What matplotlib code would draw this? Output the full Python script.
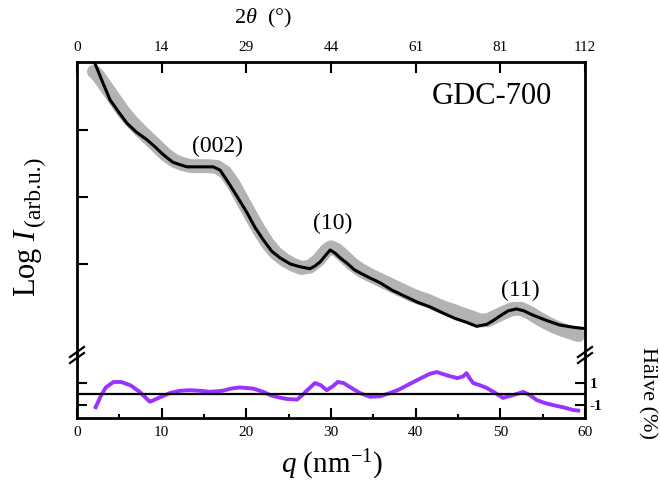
import numpy as np
import matplotlib
matplotlib.use('Agg')
import matplotlib.pyplot as plt

plt.rcParams['font.family'] = ['Liberation Serif', 'DejaVu Serif']
plt.rcParams['mathtext.fontset'] = 'custom'
plt.rcParams['mathtext.rm'] = 'Liberation Serif'
plt.rcParams['mathtext.it'] = 'Liberation Serif:italic'
plt.rcParams['mathtext.bf'] = 'Liberation Serif:bold'

# measured data (grey) : q in nm^-1, log I in arb. units
q_data = [2.0, 2.5, 3.5, 4.5, 5.5, 6.5, 7.5, 8.5, 9.5, 10.5, 11.5, 12.5, 13.5,
          14.5, 15.5, 16.5, 17.5, 18.5, 19.5, 20.5, 21.5, 22.5, 23.5, 24.5,
          25.5, 26.5, 27.5, 28.5, 29.5, 30.0, 30.7, 31.5, 32.5, 33.5, 34.5,
          35.5, 36.5, 37.5, 38.5, 39.5, 40.5, 41.5, 42.5, 43.5, 44.5, 45.5,
          46.5, 47.5, 48.5, 49.5, 50.5, 51.5, 52.5, 53.5, 54.5, 55.5, 56.5,
          57.5, 58.5, 59.2]
logI_data = [3.87, 3.81, 3.63, 3.45, 3.27, 3.12, 2.99, 2.87, 2.75, 2.63, 2.54,
             2.49, 2.46, 2.46, 2.46, 2.45, 2.37, 2.19, 1.96, 1.73, 1.51, 1.31,
             1.16, 1.06, 0.99, 0.94, 0.96, 1.06, 1.21, 1.25, 1.21, 1.12, 1.00,
             0.91, 0.84, 0.78, 0.72, 0.66, 0.60, 0.54, 0.49, 0.45, 0.39, 0.34,
             0.30, 0.25, 0.21, 0.16, 0.16, 0.22, 0.28, 0.33, 0.33, 0.27, 0.19,
             0.12, 0.06, 0.01, -0.03, -0.06]

# fit curve (black)
q_fit = [1.8, 2.1, 3.0, 3.9, 4.9, 5.9, 7.0, 8.3, 9.2, 10.2, 11.3, 12.2, 13.0,
         14.5, 16.1, 16.9, 17.7, 18.9, 20.1, 21.0, 22.0, 23.0, 24.0, 25.2,
         26.3, 27.5, 28.1, 28.7, 29.3, 29.9, 30.5, 31.1, 32.0, 32.8, 34.3,
         35.8, 37.2, 38.7, 40.2, 41.7, 43.2, 44.6, 46.0, 47.2, 48.4, 49.2,
         49.9, 50.9, 51.9, 52.8, 53.8, 55.4, 57.0, 58.4, 59.7, 60.2]
logI_fit = [4.16, 4.00, 3.72, 3.45, 3.27, 3.10, 2.97, 2.85, 2.75, 2.63, 2.52,
            2.48, 2.45, 2.45, 2.45, 2.40, 2.25, 2.01, 1.76, 1.55, 1.36, 1.19,
            1.09, 1.00, 0.96, 0.93, 0.97, 1.03, 1.12, 1.21, 1.16, 1.09, 1.00,
            0.91, 0.81, 0.72, 0.61, 0.52, 0.43, 0.36, 0.27, 0.19, 0.13, 0.07,
            0.10, 0.16, 0.22, 0.30, 0.33, 0.30, 0.24, 0.16, 0.09, 0.06, 0.04,
            0.04]

# residual (%)
q_res = [2.2, 2.8, 3.4, 4.3, 5.2, 6.3, 7.4, 8.6, 9.8, 11.0, 12.2, 13.3, 14.5,
         15.7, 17.2, 18.2, 19.2, 20.8, 22.0, 22.8, 23.8, 24.8, 26.0, 26.6,
         27.2, 28.1, 28.8, 29.5, 30.2, 30.8, 31.5, 32.2, 33.4, 34.6, 35.8,
         37.0, 38.0, 39.0, 40.0, 40.9, 41.7, 42.5, 43.1, 43.7, 44.9, 45.6,
         46.0, 46.4, 46.8, 47.6, 48.4, 49.4, 50.3, 51.5, 52.7, 53.5, 54.3,
         55.2, 56.2, 57.4, 58.6, 59.2]
res = [-1.2, -0.2, 0.6, 1.1, 1.1, 0.8, 0.2, -0.7, -0.3, 0.1, 0.3, 0.35, 0.3,
       0.2, 0.3, 0.5, 0.6, 0.5, 0.2, -0.1, -0.3, -0.45, -0.5, -0.1, 0.35, 1.0,
       0.8, 0.35, 0.7, 1.1, 1.0, 0.65, 0.1, -0.25, -0.2, 0.1, 0.4, 0.8, 1.2,
       1.55, 1.85, 2.0, 1.85, 1.7, 1.45, 1.6, 1.9, 1.4, 1.0, 0.8, 0.55, 0.1,
       -0.35, -0.1, 0.2, -0.1, -0.55, -0.8, -1.0, -1.2, -1.45, -1.5]

q_ticks = [0, 10, 20, 30, 40, 50, 60]
q_labels = ['0', '10', '20', '30', '40', '50', '60']
twotheta_labels = ['0', '14', '29', '44', '61', '81', '112']
peaks = ['(002)', '(10)', '(11)']
peak_q = [16.6, 30.2, 52.4]
peak_y = [2.75, 1.60, 0.61]

fig = plt.figure(figsize=(6.6, 4.88), dpi=100)
ax = fig.add_axes([0.1167, 0.2725, 0.7697, 0.6005])
axr = fig.add_axes([0.1167, 0.1434, 0.7697, 0.1291])

# top panel
ax.plot(q_data, logI_data, color='#b3b3b3', lw=10, solid_capstyle='round',
        solid_joinstyle='round', zorder=1)
ax.plot(q_fit, logI_fit, color='black', lw=2.2, zorder=2)
for lab, qx, yy in zip(peaks, peak_q, peak_y):
    ax.text(qx, yy, lab, fontsize=17, ha='center', va='center')
ax.text(49, 3.50, 'GDC-700', fontsize=22, ha='center', va='center')

ax.set_xlim(0, 60)
ax.set_ylim(-0.358, 4.015)
ax.set_yticks([1, 2, 3])
ax.set_yticklabels([])
ax.xaxis.tick_top()
ax.set_xticks(q_ticks)
ax.set_xticklabels(twotheta_labels, fontsize=11)
ax.tick_params(axis='x', which='both', direction='in', length=8, width=1.5,
               top=True, bottom=False, labeltop=True, labelbottom=False, pad=6)
ax.tick_params(axis='y', direction='in', length=8, width=1.5, right=False)
ax.spines['bottom'].set_visible(False)
for s in ['top', 'left', 'right']:
    ax.spines[s].set_linewidth(2)

# residual panel
axr.plot(q_res, res, color='#9933ff', lw=2.8, zorder=2)
axr.axhline(0, color='black', lw=1.6, zorder=3)
axr.set_xlim(0, 60)
axr.set_ylim(-2.18, 3.55)
axr.set_yticks([-1, 1])
axr.set_yticklabels(['-1', '1'], fontweight='bold')
axr.yaxis.set_ticks_position('both')
axr.tick_params(axis='y', direction='in', length=7, width=1.5,
                labelleft=False, labelright=True, labelsize=11)
axr.set_xticks(q_ticks)
axr.set_xticklabels(q_labels)
axr.set_xticks([5, 15, 25, 35, 45, 55], minor=True)
axr.tick_params(axis='x', which='major', direction='in', length=7, width=1.5,
                labelsize=11, pad=6, top=False)
axr.tick_params(axis='x', which='minor', direction='in', length=3, width=1.5,
                top=False)
axr.spines['top'].set_visible(False)
for s in ['bottom', 'left', 'right']:
    axr.spines[s].set_linewidth(2)

# axis break marks
for xb in [77 / 660, 585 / 660]:
    for dy in [-3, 3]:
        yb = 1 - (355 + dy) / 488
        fig.add_artist(plt.Line2D([xb - 7 / 660, xb + 7 / 660],
                                  [yb - 5 / 488, yb + 5 / 488],
                                  color='black', lw=1.6,
                                  transform=fig.transFigure))

# axis labels
fig.text(263 / 660, 1 - 18 / 488, r'2$\theta$  (°)', fontsize=16,
         ha='center', va='center')
fig.text(332 / 660, 1 - 465 / 488, r'$q$ (nm$^{-1}$)', fontsize=21,
         ha='center', va='center')
fig.text(28 / 660, 1 - 262 / 488, r'Log $I$', fontsize=22, rotation=90,
         ha='center', va='center')
fig.text(34 / 660, 1 - 191 / 488, '(arb.u.)', fontsize=17, rotation=90,
         ha='center', va='center')
fig.text(647 / 660, 1 - 393 / 488, 'Hälve (%)', fontsize=16, rotation=270,
         ha='center', va='center')

fig.savefig('out.png', dpi=100)
